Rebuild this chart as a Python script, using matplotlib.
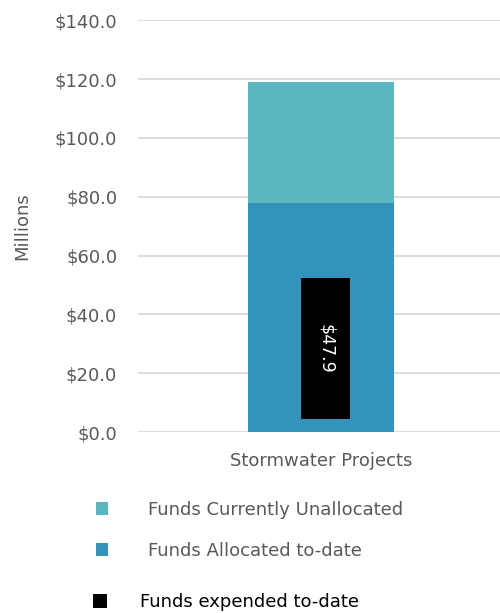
import matplotlib.pyplot as plt
from matplotlib.ticker import FuncFormatter

plt.rcParams['font.family'] = ['DejaVu Sans']

category = ['Stormwater Projects']
allocated = [77.8]
unallocated = [41.2]
expended = [47.9]
expended_base = [4.5]
yticks = [0, 20, 40, 60, 80, 100, 120, 140]

c_unalloc = '#5AB6BF'
c_alloc = '#3393BA'
gray = '#595959'
fs = 13

fig = plt.figure(figsize=(5.0, 6.13), dpi=100)
ax = fig.add_axes([0.276, 0.295, 0.724, 0.672])

x = [0]
b_alloc = ax.bar(x, allocated, width=0.403, color=c_alloc, zorder=2,
                 label='Funds Allocated to-date')
b_unalloc = ax.bar(x, unallocated, bottom=allocated, width=0.403, color=c_unalloc,
                   zorder=2, label='Funds Currently Unallocated')
b_exp = ax.bar([0.013], expended, bottom=expended_base, width=0.135, color='black',
               zorder=3, label='Funds expended to-date')

for rect, v in zip(b_exp, expended):
    ax.text(rect.get_x() + rect.get_width() / 2, rect.get_y() + rect.get_height() / 2,
            '${:.1f}'.format(v), rotation=-90, color='white', fontsize=12.5,
            ha='center', va='center', zorder=4)

ax.set_xlim(-0.505, 0.495)
ax.set_ylim(0, 140)
ax.set_yticks(yticks)
ax.yaxis.set_major_formatter(FuncFormatter(lambda v, p: '${:.1f}'.format(v)))
ax.set_xticks(x)
ax.set_xticklabels(category)
ax.grid(axis='y', color='#D9D9D9', linewidth=1.3, zorder=0)
for s in ax.spines.values():
    s.set_visible(False)
ax.tick_params(axis='both', length=0, labelsize=fs, colors=gray)
ax.tick_params(axis='y', pad=15)
ax.tick_params(axis='x', pad=14)
ax.set_ylabel('Millions', fontsize=fs, color=gray, labelpad=17)

leg1 = fig.legend(handles=[b_unalloc, b_alloc], loc='upper left',
                  bbox_to_anchor=(0.173, 0.198), frameon=False, fontsize=fs,
                  handlelength=0.7, handleheight=0.7, handletextpad=2.2,
                  labelspacing=1.3, labelcolor=gray, borderpad=0)
leg2 = fig.legend(handles=[b_exp], loc='upper left',
                  bbox_to_anchor=(0.168, 0.047), frameon=False, fontsize=fs,
                  handlelength=0.8, handleheight=0.8, handletextpad=1.8,
                  labelcolor='black', borderpad=0)

fig.savefig('out.png', dpi=100)
